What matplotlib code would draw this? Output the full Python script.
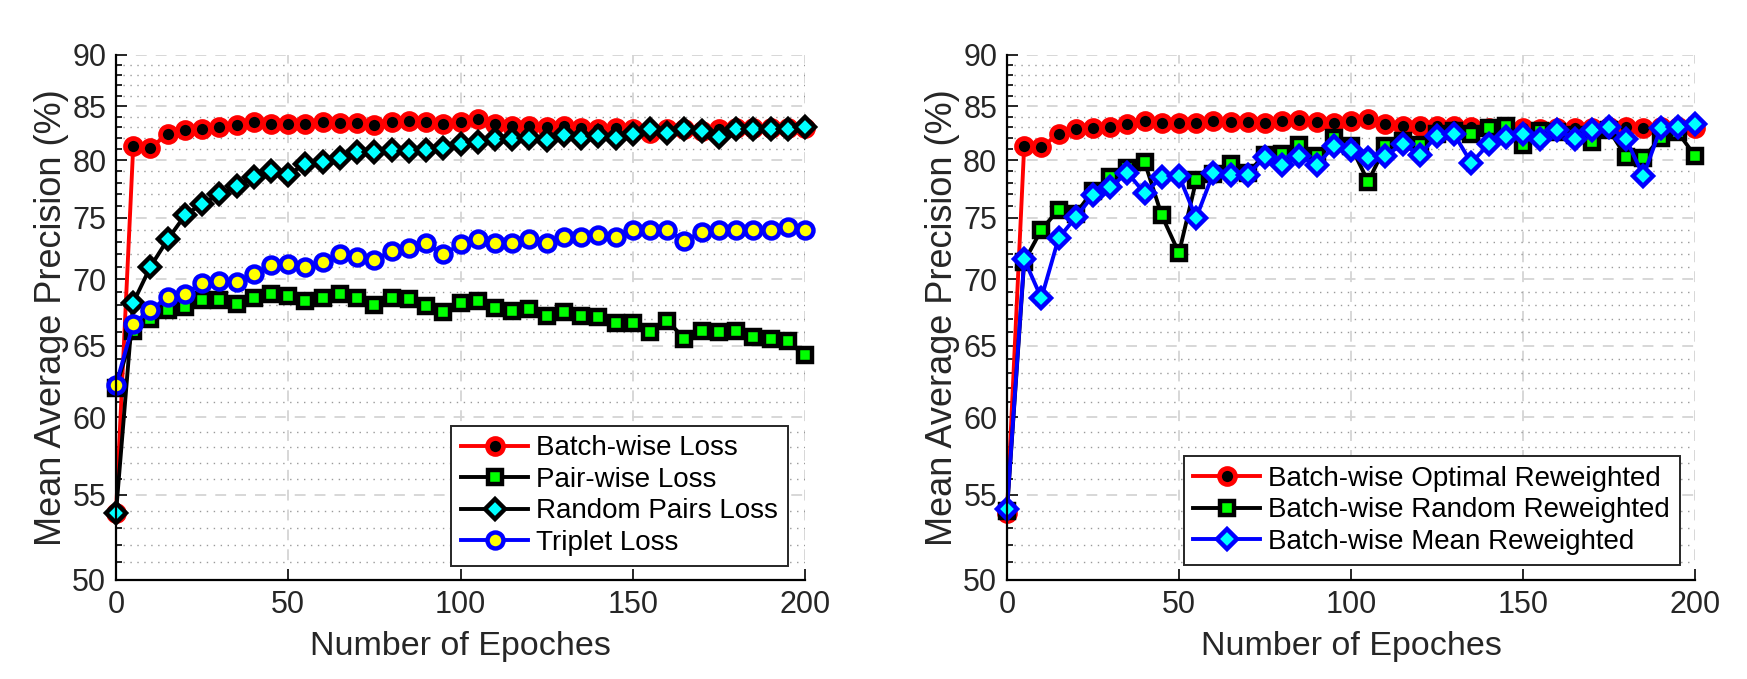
import matplotlib
matplotlib.use('Agg')
import matplotlib.pyplot as plt
import numpy as np
from matplotlib.ticker import FixedLocator, FixedFormatter, NullFormatter

plt.rcParams['font.family'] = ['Liberation Sans', 'DejaVu Sans']

epochs = list(range(0, 201, 5))

# left panel
batch_loss = [53.9, 81.25, 81.1, 82.4, 82.75, 82.8, 83.0, 83.2, 83.5, 83.35, 83.35,
              83.3, 83.45, 83.4, 83.4, 83.2, 83.5, 83.6, 83.5, 83.35, 83.5,
              83.75, 83.3, 83.1, 83.1, 83.05, 83.1, 82.9, 82.8, 82.9, 82.8,
              82.5, 82.8, 82.8, 82.65, 82.8, 82.95, 82.9, 82.9, 82.9, 82.9]
pair_loss = [62.0, 66.1, 66.95, 67.65, 67.85, 68.4, 68.4, 68.1, 68.55, 68.85, 68.75,
             68.35, 68.55, 68.9, 68.55, 68.0, 68.55, 68.5, 67.95, 67.5, 68.15,
             68.35, 67.8, 67.55, 67.7, 67.2, 67.5, 67.2, 67.15, 66.7, 66.7,
             66.0, 66.85, 65.5, 66.1, 66.0, 66.1, 65.6, 65.45, 65.3, 64.3]
random_pairs = [53.9, 68.2, 71.0, 73.2, 75.2, 76.2, 77.0, 77.7, 78.5, 79.0, 78.7,
                79.7, 79.85, 80.2, 80.7, 80.7, 80.9, 80.8, 80.9, 81.1, 81.5,
                81.6, 81.9, 81.9, 82.0, 81.8, 82.25, 82.0, 82.2, 82.0, 82.4,
                82.8, 82.5, 82.8, 82.65, 82.1, 82.8, 82.8, 82.8, 82.8, 83.0]
triplet = [62.2, 66.6, 67.65, 68.6, 68.9, 69.7, 69.9, 69.8, 70.45, 71.1, 71.2,
           70.95, 71.4, 72.0, 71.8, 71.5, 72.3, 72.5, 72.9, 72.0, 72.8,
           73.2, 72.9, 72.9, 73.2, 72.9, 73.4, 73.4, 73.55, 73.4, 74.0,
           74.0, 74.0, 73.1, 73.8, 74.0, 74.0, 74.0, 74.0, 74.2, 74.0]

# right panel
optimal_rw = [53.9, 81.25, 81.15, 82.4, 82.8, 82.9, 83.0, 83.3, 83.6, 83.4, 83.4,
              83.4, 83.55, 83.45, 83.45, 83.4, 83.6, 83.65, 83.5, 83.4, 83.6,
              83.75, 83.3, 83.1, 83.1, 83.1, 83.1, 83.0, 82.95, 82.9, 82.95,
              82.8, 82.9, 82.9, 82.9, 83.0, 83.0, 82.95, 83.0, 83.0, 82.9]
random_rw = [54.0, 71.4, 74.0, 75.7, 75.35, 77.3, 78.55, 79.3, 79.85, 75.2, 72.1,
             78.2, 78.8, 79.7, 78.85, 80.5, 80.6, 81.4, 80.4, 81.97, 81.25,
             78.1, 81.25, 81.7, 81.4, 82.4, 82.65, 82.35, 82.9, 83.1, 81.4,
             82.65, 82.6, 82.3, 81.65, 82.75, 80.3, 80.2, 82.0, 82.55, 80.4]
mean_rw = [54.1, 71.6, 68.55, 73.3, 75.05, 76.9, 77.6, 78.9, 77.1, 78.5, 78.6,
           75.0, 78.85, 78.7, 78.7, 80.3, 79.6, 80.4, 79.55, 81.25, 80.95,
           80.2, 80.4, 81.45, 80.5, 82.2, 82.35, 79.75, 81.45, 82.1, 82.35,
           81.9, 82.75, 81.95, 82.75, 83.05, 81.9, 78.6, 82.9, 83.05, 83.3]

yticks = [50, 55, 60, 65, 70, 75, 80, 85, 90]
xticks = [0, 50, 100, 150, 200]

fig = plt.figure(figsize=(17.47, 6.79), dpi=100)
ax1 = fig.add_axes([0.0664, 0.146, 0.3944, 0.773])
ax2 = fig.add_axes([0.5764, 0.146, 0.3938, 0.773])

ms = 11.5
lw = 2.8
mew = 2.8


def style(ax):
    ax.set_yscale('log')
    ax.set_ylim(50, 90)
    ax.set_xlim(0, 200)
    ax.yaxis.set_major_locator(FixedLocator(yticks))
    ax.yaxis.set_major_formatter(FixedFormatter([str(v) for v in yticks]))
    ax.yaxis.set_minor_locator(FixedLocator([v for v in range(50, 91) if v % 5]))
    ax.yaxis.set_minor_formatter(NullFormatter())
    ax.set_xticks(xticks)
    ax.grid(which='major', ls=(0, (6, 5)), color='#d4d4d4', lw=1.3)
    ax.grid(which='minor', axis='y', ls=(0, (1, 4)), color='#9a9a9a', lw=1.0)
    ax.set_axisbelow(True)
    for s in ['top', 'right']:
        ax.spines[s].set_visible(False)
    for s in ['left', 'bottom']:
        ax.spines[s].set_linewidth(1.6)
    ax.tick_params(which='both', direction='in', labelsize=22, width=1.4,
                   colors='#262626', labelcolor='#262626')
    ax.tick_params(which='major', length=8, pad=7)
    ax.tick_params(which='minor', length=4)
    ax.set_xlabel('Number of Epoches', fontsize=24.5, color='#262626', labelpad=8)
    ax.set_ylabel('Mean Average Precision (%)', fontsize=26, color='#262626', labelpad=2)


style(ax1)
ax1.plot(epochs, batch_loss, '-o', color='red', lw=lw, ms=ms, mfc='black', mec='red',
         mew=mew + 0.6, clip_on=False, label='Batch-wise Loss')
ax1.plot(epochs, pair_loss, '-s', color='black', lw=lw, ms=ms - 1, mfc='#00ff00', mec='black',
         mew=mew + 0.4, clip_on=False, label='Pair-wise Loss')
ax1.plot(epochs, random_pairs, '-D', color='black', lw=lw, ms=ms - 1.5, mfc='cyan', mec='black',
         mew=mew + 0.4, clip_on=False, label='Random Pairs Loss')
ax1.plot(epochs, triplet, '-o', color='blue', lw=lw, ms=ms, mfc='yellow', mec='blue',
         mew=mew + 0.4, clip_on=False, label='Triplet Loss')
leg1 = ax1.legend(loc='lower right', bbox_to_anchor=(0.975, 0.027), borderaxespad=0,
                  fontsize=20, fancybox=False, framealpha=1, edgecolor='#262626',
                  handlelength=2.4, labelspacing=0.2, borderpad=0.35, handletextpad=0.3)
leg1.get_frame().set_linewidth(1.4)

style(ax2)
ax2.plot(epochs, optimal_rw, '-o', color='red', lw=lw, ms=ms, mfc='black', mec='red',
         mew=mew + 0.6, clip_on=False, label='Batch-wise Optimal Reweighted')
ax2.plot(epochs, random_rw, '-s', color='black', lw=lw, ms=ms - 1, mfc='#00ff00', mec='black',
         mew=mew + 0.4, clip_on=False, label='Batch-wise Random Reweighted')
ax2.plot(epochs, mean_rw, '-D', color='blue', lw=lw, ms=ms - 1.5, mfc='cyan', mec='blue',
         mew=mew + 0.4, clip_on=False, label='Batch-wise Mean Reweighted')
leg2 = ax2.legend(loc='lower right', bbox_to_anchor=(0.978, 0.029), borderaxespad=0,
                  fontsize=20, fancybox=False, framealpha=1, edgecolor='#262626',
                  handlelength=2.4, labelspacing=0.2, borderpad=0.35, handletextpad=0.3)
leg2.get_frame().set_linewidth(1.4)

fig.savefig('out.png', dpi=100)
